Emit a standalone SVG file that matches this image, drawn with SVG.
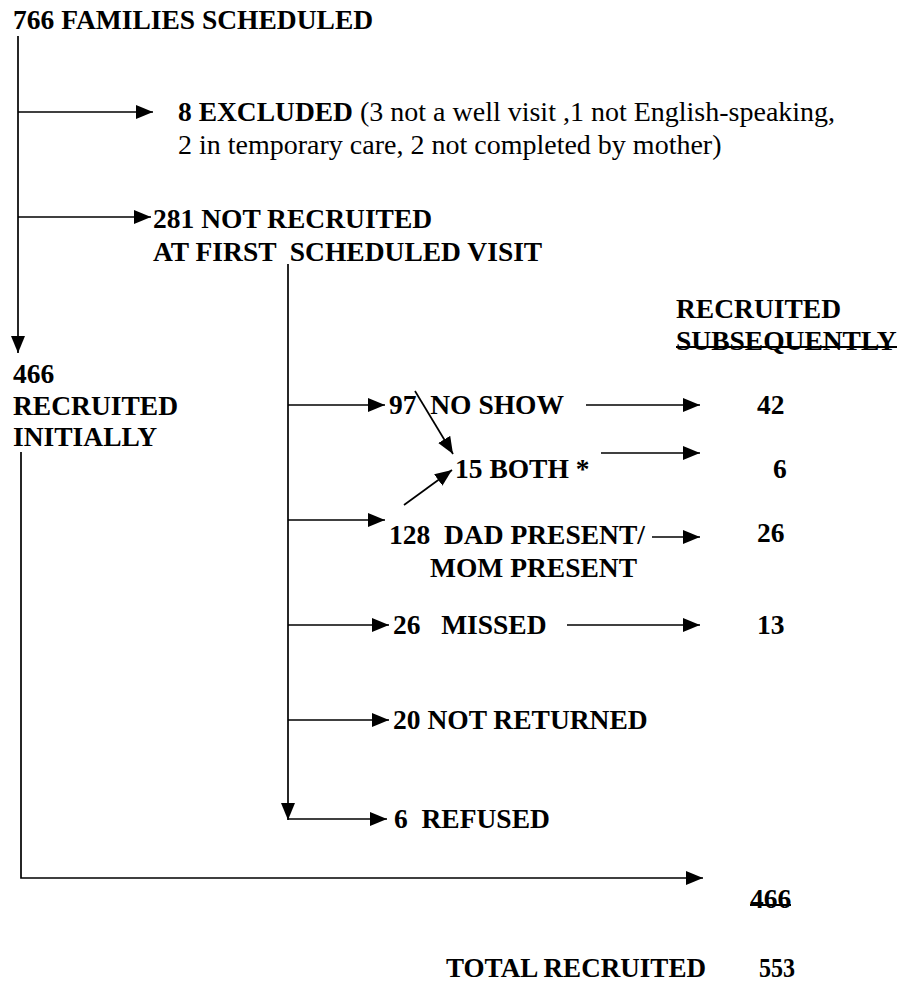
<svg xmlns="http://www.w3.org/2000/svg" width="916" height="989" viewBox="0 0 916 989">
<style>
text{font-family:"Liberation Serif","Times New Roman",serif;font-size:27.5px;font-weight:bold;fill:#000;white-space:pre}
.reg{font-weight:normal;font-size:28px}
.ln{stroke:#000;stroke-width:1.7;fill:none}
.ar{marker-end:url(#ah)}
.ul{stroke:#000;stroke-width:2.2}
</style>
<defs>
<marker id="ah" viewBox="0 0 17 14" refX="17" refY="7" markerWidth="17" markerHeight="14" markerUnits="userSpaceOnUse" orient="auto">
<path d="M0,0 L17,7 L0,14 z" fill="#000"/>
</marker>
</defs>
<g id="connectors">
<line class="ln ar" x1="18" y1="36" x2="18" y2="353"/>
<line class="ln ar" x1="18" y1="112" x2="153" y2="112"/>
<line class="ln ar" x1="18" y1="217" x2="151" y2="217"/>
<line class="ln ar" x1="288" y1="264" x2="288" y2="820"/>
<line class="ln ar" x1="288" y1="405" x2="385" y2="405"/>
<line class="ln ar" x1="586" y1="405" x2="700" y2="405"/>
<line class="ln ar" x1="415" y1="391" x2="453" y2="454"/>
<line class="ln ar" x1="404" y1="505" x2="452" y2="470"/>
<line class="ln ar" x1="601" y1="453" x2="700" y2="453"/>
<line class="ln ar" x1="288" y1="520" x2="385" y2="520"/>
<line class="ln ar" x1="652" y1="537" x2="700" y2="537"/>
<line class="ln ar" x1="288" y1="625" x2="389" y2="625"/>
<line class="ln ar" x1="567" y1="625" x2="700" y2="625"/>
<line class="ln ar" x1="288" y1="720" x2="389" y2="720"/>
<line class="ln ar" x1="288" y1="819" x2="387" y2="819"/>
<polyline class="ln ar" points="21,452 21,878 703,878"/>
</g>
<g id="n-scheduled"><text x="13" y="29">766 FAMILIES SCHEDULED</text></g>
<g id="n-excluded">
<text x="178" y="121">8 EXCLUDED<tspan class="reg"> (3 not a well visit ,1 not English-speaking,</tspan></text>
<text class="reg" x="178" y="154">2 in temporary care, 2 not completed by mother)</text>
</g>
<g id="n-notrecruited">
<text x="153" y="228">281 NOT RECRUITED</text>
<text x="153" y="261">AT FIRST  SCHEDULED VISIT</text>
</g>
<g id="n-subsequently">
<text x="676" y="318">RECRUITED</text>
<text x="676" y="350">SUBSEQUENTLY</text>
<line class="ul" x1="676" y1="347" x2="897" y2="347"/>
</g>
<g id="n-initially">
<text x="13" y="383">466</text>
<text x="13" y="415">RECRUITED</text>
<text x="13" y="446">INITIALLY</text>
</g>
<g id="n-noshow"><text x="389" y="414">97  NO SHOW</text></g>
<g id="n-noshow-sub"><text x="757" y="414">42</text></g>
<g id="n-both"><text x="455" y="478">15 BOTH *</text></g>
<g id="n-both-sub"><text x="773" y="478">6</text></g>
<g id="n-dadmom">
<text x="389" y="544">128  DAD PRESENT/</text>
<text x="430" y="577">MOM PRESENT</text>
</g>
<g id="n-dadmom-sub"><text x="757" y="542">26</text></g>
<g id="n-missed"><text x="393" y="634">26   MISSED</text></g>
<g id="n-missed-sub"><text x="757" y="634">13</text></g>
<g id="n-notreturned"><text x="393" y="729">20 NOT RETURNED</text></g>
<g id="n-refused"><text x="394" y="828">6  REFUSED</text></g>
<g id="n-initially-sub">
<text x="750" y="908">466</text>
<line class="ul" x1="750" y1="905" x2="791" y2="905"/>
</g>
<g id="n-total">
<text x="446" y="977" textLength="260" lengthAdjust="spacingAndGlyphs">TOTAL RECRUITED</text>
<text x="759" y="977" textLength="36" lengthAdjust="spacingAndGlyphs">553</text>
</g>
</svg>
